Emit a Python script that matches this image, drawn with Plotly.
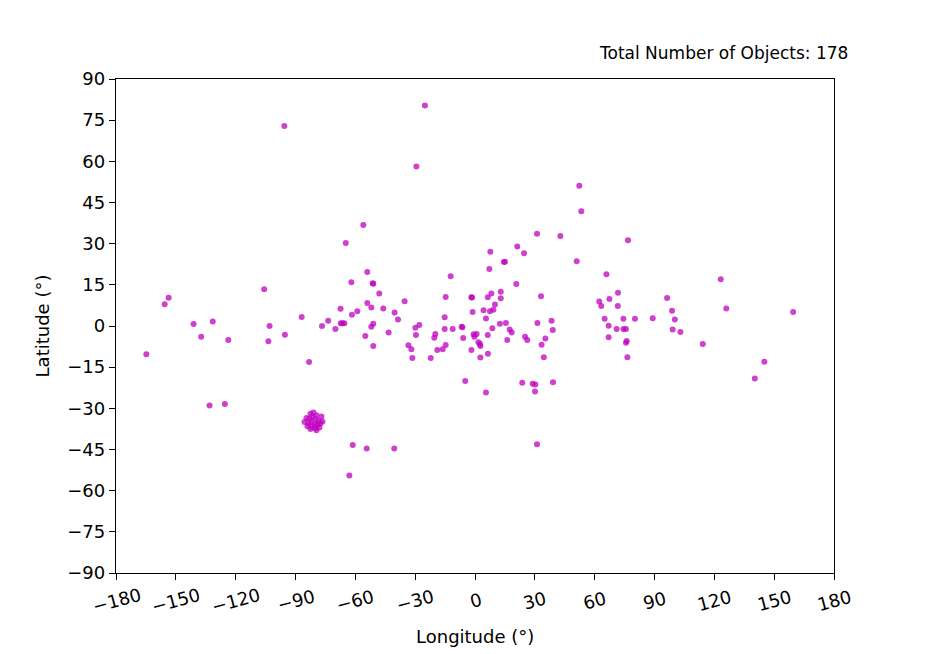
import plotly.graph_objects as go

# Non-cluster objects (longitude, latitude)
lon_main = [-95.6, -64.8, -62.0, -105.7, -153.6, -155.6, -67.4, -61.7, -86.9, -73.6,
            -141.1, -131.5, -103.0, -76.7, -67.3, -66.5, -65.5, -70.0, -137.3, -123.7,
            -164.8, -103.6, -95.3, -83.2, -133.1, -125.4, -61.3, -63.0,
            -25.1, -29.4, 52.3, 53.3, -56.0, 31.1, 42.8, 21.2, 7.7, 24.6,
            14.5, 15.0, 51.0, 7.2, -54.0, -12.2, -51.3, -51.0, 20.7, -48.0,
            12.9, 8.2, 33.1, -35.3, -14.7, -1.8, -1.5, 6.4, 12.9, -54.0,
            -52.0, -46.0, -59.0, -40.3, 10.0, 4.3, 7.5, 9.2, -1.2, -38.6,
            -15.2, 5.5, -51.0, -52.0, -27.9, -29.9, -6.7, -6.3, -15.2, -11.2,
            12.5, 15.5, 31.3, 38.4, 8.7, 17.4, 39.0, -55.0, -43.3, -51.0,
            -29.6, -33.4, -31.9, -31.4, -22.2, -19.9, -20.4, -18.9, -16.2, -14.7,
            -5.9, -0.7, 0.8, -0.3, 1.7, 2.5, 2.7, -1.8, 2.7, 6.5,
            6.4, 18.4, 16.2, 25.1, 26.2, 35.3, 33.4, 34.5, -4.9, 5.5,
            23.7, 28.9, 30.3, 30.1, 39.1, -54.3, -40.5, 31.1,
            76.7, 65.9, 123.2, 71.7, 62.3, 63.3, 67.4, 71.6, 96.3, 98.8,
            126.0, 159.5, 65.0, 74.4, 80.2, 89.1, 100.2, 67.0, 71.0, 74.4,
            75.7, 99.1, 103.0, 67.0, 76.1, 75.7, 76.4, 114.2, 145.1, 140.3]
lat_main = [72.9, 30.2, 15.9, 13.4, 10.3, 7.9, 6.3, 4.1, 3.3, 1.9,
            0.7, 1.6, 0.0, 0.0, 1.0, 1.0, 1.0, -1.1, -3.9, -5.1,
            -10.3, -5.6, -3.2, -13.1, -29.0, -28.4, -43.4, -54.5,
            80.3, 58.1, 51.1, 41.8, 36.8, 33.6, 32.8, 29.0, 27.1, 26.5,
            23.3, 23.4, 23.6, 20.8, 19.7, 18.1, 15.6, 15.4, 15.3, 11.8,
            12.5, 11.8, 10.8, 9.0, 10.6, 10.5, 10.4, 10.5, 10.1, 8.4,
            6.7, 6.4, 5.4, 4.9, 7.8, 5.7, 5.4, 5.9, 5.1, 2.4,
            3.2, 2.7, 0.8, -0.3, 0.4, -0.6, -0.3, -0.5, -1.1, -1.1,
            0.8, 1.1, 1.1, 1.9, -0.8, -1.3, -1.5, -3.6, -2.4, -7.3,
            -3.3, -7.0, -8.5, -11.7, -11.7, -2.9, -4.3, -8.7, -8.5, -6.9,
            -4.4, -3.0, -2.9, -3.9, -5.9, -6.6, -7.3, -8.7, -11.5, -10.1,
            -3.3, -2.4, -5.1, -3.9, -5.1, -4.6, -6.8, -11.4, -20.0, -24.2,
            -20.7, -21.0, -21.3, -23.9, -20.5, -44.6, -44.6, -43.1,
            31.2, 18.9, 17.0, 12.1, 8.9, 7.3, 9.8, 7.3, 10.2, 5.6,
            6.4, 5.1, 2.6, 2.6, 2.6, 2.8, 2.4, 0.1, -1.1, -1.1,
            -1.1, -1.3, -2.2, -4.1, -5.5, -6.1, -11.4, -6.6, -13.0, -19.1]

# Dense cluster near (-81, -35)
lon_cluster = [-82.5, -81.0, -79.5, -77.0, -84.5, -83.0, -81.5, -80.0, -78.5, -76.5, -85.5,
               -83.5, -82.0, -80.5, -79.0, -77.5, -84.0, -81.5, -80.0, -78.0, -82.5, -79.5]
lat_cluster = [-32.0, -31.5, -32.5, -33.0, -33.5, -33.8, -33.2, -34.0, -34.5, -34.8, -35.0,
               -35.5, -35.0, -35.8, -36.0, -35.5, -36.5, -36.8, -37.3, -37.0, -37.5, -38.0]

lons = lon_main + lon_cluster
lats = lat_main + lat_cluster

x_ticks = list(range(-180, 181, 30))
y_ticks = list(range(-90, 91, 15))


def fmt(v):
    return ("\u2212" + str(abs(v))) if v < 0 else str(v)


FONT = "DejaVu Sans"

fig = go.Figure()
fig.add_trace(go.Scatter(
    x=lons, y=lats, mode="markers",
    marker=dict(size=6, color="rgba(191,0,191,0.75)", line=dict(width=0)),
    showlegend=False, hoverinfo="x+y"))

axis_common = dict(showgrid=False, zeroline=False, showline=True, mirror=True,
                   linecolor="black", linewidth=1.4, ticks="outside", ticklen=6,
                   tickwidth=1.4, tickcolor="black",
                   tickfont=dict(family=FONT, size=18, color="black"))

# x tick labels: centred on the tick and rotated 15 degrees (as annotations)
fig.update_xaxes(range=[-180, 180], tickvals=x_ticks, showticklabels=False, **axis_common)
for v in x_ticks:
    fig.add_annotation(text=fmt(v), x=v, xref="x", y=0, yref="paper",
                       xanchor="center", yanchor="middle", yshift=-27, textangle=-15,
                       showarrow=False, font=dict(family=FONT, size=18, color="black"))
fig.add_annotation(text="Longitude (°)", x=0.5, xref="paper", y=0, yref="paper",
                   xanchor="center", yanchor="middle", yshift=-63, showarrow=False,
                   font=dict(family=FONT, size=18, color="black"))

fig.update_yaxes(range=[-90, 90], tickvals=y_ticks, ticktext=[fmt(v) for v in y_ticks],
                 title=dict(text="Latitude (°)", font=dict(family=FONT, size=18, color="black"),
                            standoff=12),
                 **axis_common)

fig.add_annotation(text="Total Number of Objects: 178", xref="paper", yref="paper",
                   x=1.022, y=1.053, xanchor="right", yanchor="middle", showarrow=False,
                   font=dict(family=FONT, size=17, color="black"))

fig.update_layout(width=918, height=646, margin=dict(l=108, r=92, t=71, b=81),
                  plot_bgcolor="white", paper_bgcolor="white",
                  font=dict(family=FONT, size=18, color="black"))

fig.write_html("out.html")
